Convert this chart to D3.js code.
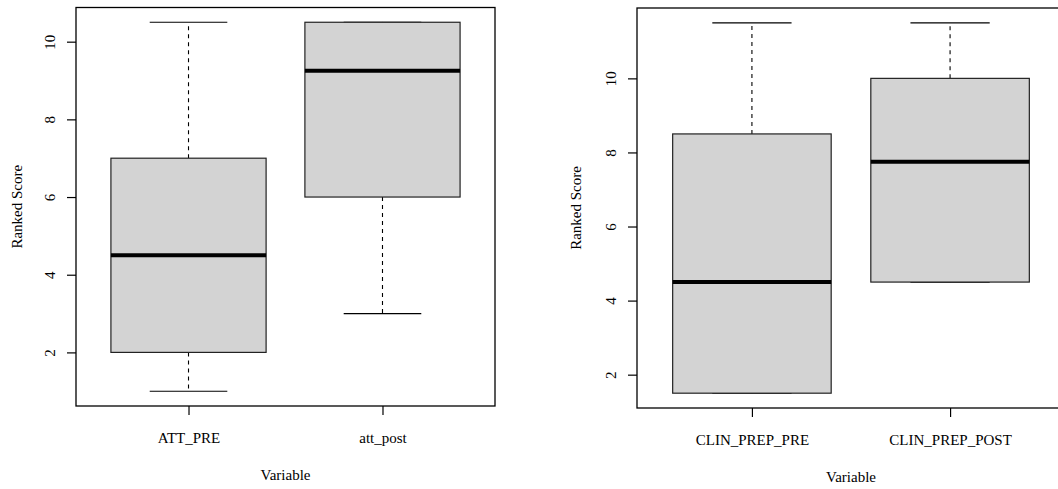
<!DOCTYPE html>
<html>
<head>
<meta charset="utf-8">
<script src="https://cdn.jsdelivr.net/npm/d3@7"></script>
<style>
  html, body { margin: 0; padding: 0; background: #fff; }
  svg { display: block; font-family: "Liberation Serif", "Times New Roman", serif; }
</style>
</head>
<body>
<svg id="chart" width="1058" height="489"></svg>
<script>
// ---- data ----
const leftCategories = ["ATT_PRE", "att_post"];
const leftLow    = [1, 3];
const leftQ1     = [2, 6];
const leftMedian = [4.5, 9.25];
const leftQ3     = [7, 10.5];
const leftHigh   = [10.5, 10.5];

const rightCategories = ["CLIN_PREP_PRE", "CLIN_PREP_POST"];
const rightLow    = [1.5, 4.5];
const rightQ1     = [1.5, 4.5];
const rightMedian = [4.5, 7.75];
const rightQ3     = [8.5, 10];
const rightHigh   = [11.5, 11.5];

const yTicks = [2, 4, 6, 8, 10];
const xTitle = "Variable";
const yTitle = "Ranked Score";

const svg = d3.select("#chart");
const FONT = 15;

function panel(cfg) {
  const n = cfg.cats.length;
  const stats = cfg.cats.map((c, i) => ({
    cat: c, idx: i + 1,
    low: cfg.low[i], q1: cfg.q1[i], med: cfg.med[i], q3: cfg.q3[i], high: cfg.high[i]
  }));
  const dataMin = d3.min(stats, d => d.low), dataMax = d3.max(stats, d => d.high);
  const pad = (dataMax - dataMin) * 0.04;
  const y = d3.scaleLinear().domain([dataMin - pad, dataMax + pad]).range([cfg.bottom, cfg.top]);
  const xpad = (n + 0.5 - 0.5) * 0.04;
  const x = d3.scaleLinear().domain([0.5 - xpad, n + 0.5 + xpad]).range([cfg.left, cfg.right]);
  const g = svg.append("g");
  const boxHalf = 0.4, capHalf = 0.2;

  const b = g.selectAll("g.box").data(stats).enter().append("g").attr("class", "box");
  // whiskers (dashed)
  b.append("line")
    .attr("x1", d => x(d.idx)).attr("x2", d => x(d.idx))
    .attr("y1", d => y(d.q3)).attr("y2", d => y(d.high))
    .attr("stroke", "#000").attr("stroke-width", 1.1).attr("stroke-dasharray", "4,4");
  b.append("line")
    .attr("x1", d => x(d.idx)).attr("x2", d => x(d.idx))
    .attr("y1", d => y(d.q1)).attr("y2", d => y(d.low))
    .attr("stroke", "#000").attr("stroke-width", 1.1).attr("stroke-dasharray", "4,4");
  // caps
  b.append("line")
    .attr("x1", d => x(d.idx - capHalf)).attr("x2", d => x(d.idx + capHalf))
    .attr("y1", d => y(d.high)).attr("y2", d => y(d.high))
    .attr("stroke", "#000").attr("stroke-width", 1.2);
  b.append("line")
    .attr("x1", d => x(d.idx - capHalf)).attr("x2", d => x(d.idx + capHalf))
    .attr("y1", d => y(d.low)).attr("y2", d => y(d.low))
    .attr("stroke", "#000").attr("stroke-width", 1.2);
  // box
  b.append("rect")
    .attr("x", d => x(d.idx - boxHalf))
    .attr("width", d => x(d.idx + boxHalf) - x(d.idx - boxHalf))
    .attr("y", d => y(d.q3))
    .attr("height", d => y(d.q1) - y(d.q3))
    .attr("fill", "#d3d3d3").attr("stroke", "#222").attr("stroke-width", 1.2);
  // median
  b.append("line")
    .attr("x1", d => x(d.idx - boxHalf)).attr("x2", d => x(d.idx + boxHalf))
    .attr("y1", d => y(d.med)).attr("y2", d => y(d.med))
    .attr("stroke", "#000").attr("stroke-width", 4);

  // plot frame
  g.append("rect")
    .attr("x", cfg.left).attr("y", cfg.top)
    .attr("width", cfg.right - cfg.left).attr("height", cfg.bottom - cfg.top)
    .attr("fill", "none").attr("stroke", "#000").attr("stroke-width", 1.3);

  // y axis
  const ya = g.append("g").attr("transform", `translate(${cfg.left},0)`)
    .call(d3.axisLeft(y).tickValues(yTicks).tickSize(9).tickFormat(d3.format("d")));
  ya.select(".domain").remove();
  ya.selectAll(".tick line").attr("stroke", "#000").attr("stroke-width", 1.2);
  ya.selectAll(".tick text")
    .attr("x", 0).attr("dy", null)
    .attr("transform", "translate(-26,0) rotate(-90)")
    .attr("text-anchor", "middle").attr("dominant-baseline", "central")
    .style("font-family", "Liberation Serif, Times New Roman, serif")
    .style("font-size", FONT + "px").attr("fill", "#000");

  // x axis
  const xa = g.append("g").attr("transform", `translate(0,${cfg.bottom})`)
    .call(d3.axisBottom(x).tickValues(stats.map(d => d.idx)).tickSize(9)
      .tickFormat(v => cfg.cats[v - 1]));
  xa.select(".domain").remove();
  xa.selectAll(".tick line").attr("stroke", "#000").attr("stroke-width", 1.2);
  xa.selectAll(".tick text")
    .attr("y", 0).attr("dy", null)
    .attr("transform", "translate(0,32)")
    .attr("text-anchor", "middle").attr("dominant-baseline", "central")
    .style("font-family", "Liberation Serif, Times New Roman, serif")
    .style("font-size", FONT + "px").attr("fill", "#000");

  // titles
  g.append("text")
    .attr("x", (cfg.left + cfg.right) / 2).attr("y", cfg.bottom + 69)
    .attr("text-anchor", "middle").attr("dominant-baseline", "central")
    .style("font-size", FONT + "px").text(xTitle);
  g.append("text")
    .attr("transform", `translate(${cfg.ytitleX},${(cfg.top + cfg.bottom) / 2}) rotate(-90)`)
    .attr("text-anchor", "middle").attr("dominant-baseline", "central")
    .style("font-size", FONT + "px").text(yTitle);
}

panel({ cats: leftCategories, low: leftLow, q1: leftQ1, med: leftMedian, q3: leftQ3, high: leftHigh,
        left: 76, right: 495, top: 7.5, bottom: 406, ytitleX: 17 });
panel({ cats: rightCategories, low: rightLow, q1: rightQ1, med: rightMedian, q3: rightQ3, high: rightHigh,
        left: 637, right: 1065, top: 8, bottom: 408, ytitleX: 576 });
</script>
</body>
</html>
